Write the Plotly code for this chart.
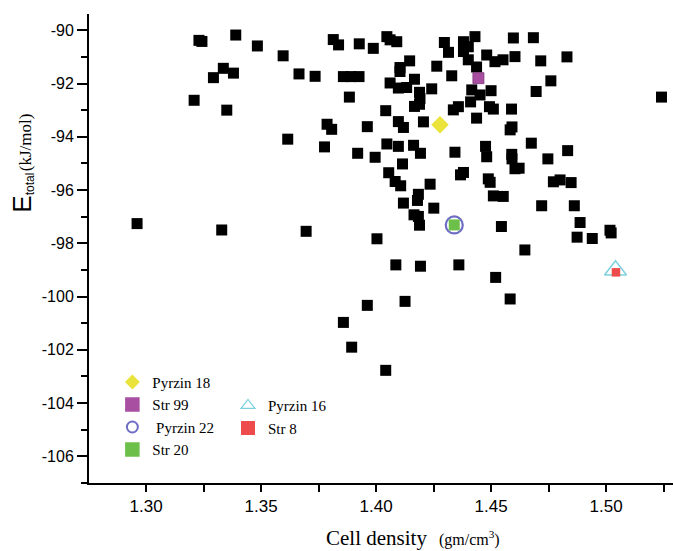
import plotly.graph_objects as go

# Screened structures: crystal cell density (g/cm^3) vs total energy (kJ/mol)
density = [
    1.2961, 1.3209, 1.3230, 1.3243, 1.3293, 1.3336, 1.3380, 1.3351, 1.3329, 1.3390,
    1.3484, 1.3596, 1.3616, 1.3665, 1.3735, 1.3696, 1.3787, 1.3807, 1.3776, 1.3814,
    1.3837, 1.3858, 1.3891, 1.3926, 1.3884, 1.3927, 1.3988, 1.4047, 1.4061, 1.4090,
    1.3962, 1.4042, 1.4061, 1.4097, 1.4133, 1.4104, 1.4104, 1.4146, 1.4167, 1.4189,
    1.4191, 1.4167, 1.4189, 1.4242, 1.4264, 1.4297, 1.4315, 1.4329, 1.4380, 1.4401,
    1.4430, 1.4380, 1.4401, 1.4437, 1.4481, 1.4517, 1.4552, 1.4604, 1.4597, 1.4684,
    1.4716, 1.4830, 1.4760, 1.4696, 1.5241, 1.4416, 1.4452, 1.4500, 1.4411, 1.4493,
    1.4510, 1.4589, 1.4336, 1.4358, 1.4437, 1.4206, 1.4097, 1.4119, 1.4583, 1.4591,
    1.4675, 1.4833, 1.4747, 1.4047, 1.4097, 1.4163, 1.4193, 1.3920, 1.3996, 1.4115,
    1.4343, 1.4476, 1.4481, 1.4590, 1.4591, 1.4604, 1.4622, 1.4055, 1.4083, 1.4107,
    1.4184, 1.4180, 1.4235, 1.4367, 1.4380, 1.4488, 1.4496, 1.4510, 1.4553, 1.4771,
    1.4800, 1.4848, 1.4119, 1.4251, 1.4165, 1.4184, 1.4189, 1.4545, 1.4720, 1.4862,
    1.4887, 1.4874, 1.4940, 1.5017, 1.5022, 1.4004, 1.4647, 1.4086, 1.4193, 1.4360,
    1.4520, 1.3858, 1.3962, 1.4126, 1.3894, 1.4042, 1.4583,
]
energy = [
    -97.26, -92.63, -90.38, -90.42, -91.78, -91.43, -91.61, -93.00, -97.50, -90.18,
    -90.59, -90.96, -94.09, -91.64, -91.73, -97.55, -93.53, -93.72, -94.38, -90.35,
    -90.55, -91.74, -91.74, -91.74, -92.51, -90.51, -90.68, -90.24, -90.36, -90.43,
    -93.62, -93.02, -91.98, -92.17, -92.15, -91.40, -91.55, -91.15, -91.84, -92.33,
    -92.56, -92.86, -92.78, -92.20, -91.35, -90.46, -90.83, -91.71, -90.43, -90.62,
    -90.24, -90.80, -91.11, -91.38, -90.93, -91.18, -91.11, -90.99, -90.29, -90.28,
    -91.15, -91.00, -91.90, -92.30, -92.51, -92.24, -92.43, -92.27, -92.69, -92.87,
    -92.96, -92.96, -92.99, -92.87, -93.30, -93.44, -93.43, -93.65, -93.74, -93.63,
    -94.24, -94.52, -94.83, -94.27, -94.36, -94.32, -94.62, -94.62, -94.77, -95.02,
    -94.58, -94.36, -94.75, -94.66, -94.83, -95.20, -95.18, -95.35, -95.68, -95.84,
    -96.16, -96.39, -95.78, -95.43, -95.34, -95.58, -95.71, -96.22, -96.24, -95.69,
    -95.62, -95.72, -96.49, -96.68, -96.93, -96.99, -97.32, -97.37, -96.59, -96.59,
    -97.22, -97.77, -97.82, -97.51, -97.61, -97.83, -98.25, -98.81, -98.86, -98.81,
    -99.28, -100.97, -100.33, -100.18, -101.90, -102.77, -100.09,
]

# Highlighted structures: name -> (density, energy)
pyrzin18 = (1.4278, -93.55)
str99 = (1.4445, -91.80)
pyrzin22 = (1.4340, -97.31)
str20 = (1.4340, -97.31)
pyrzin16 = (1.5041, -99.01)
str8 = (1.5043, -99.09)

x_ticks = [1.30, 1.35, 1.40, 1.45, 1.50]
x_tick_text = ["1.30", "1.35", "1.40", "1.45", "1.50"]
y_ticks = [-90, -92, -94, -96, -98, -100, -102, -104, -106]
y_tick_text = ["-90", "-92", "-94", "-96", "-98", "-100", "-102", "-104", "-106"]

YELLOW = "#E9E33B"
PURPLE = "#A94FA2"
RING = "#6E6EC4"
GREEN = "#6CC04A"
CYAN = "#7ED2DE"
RED = "#EE4C4C"

SANS = "Liberation Sans, Arial, sans-serif"
SERIF = "Liberation Serif, Times New Roman, serif"

fig = go.Figure()

fig.add_trace(go.Scatter(
    x=density, y=energy, mode="markers", showlegend=False,
    marker=dict(symbol="square", size=11, color="black", line=dict(width=0)),
))

def point(pt, marker):
    fig.add_trace(go.Scatter(x=[pt[0]], y=[pt[1]], mode="markers",
                             showlegend=False, marker=marker))

point(str99, dict(symbol="square", size=11, color=PURPLE, line=dict(width=0.8, color="#7a3576")))
point(pyrzin18, dict(symbol="diamond", size=13.5, color=YELLOW, line=dict(width=0)))
point(pyrzin22, dict(symbol="circle-open", size=17, color=RING, line=dict(width=2.2, color=RING)))
point(str20, dict(symbol="square", size=11, color=GREEN, line=dict(width=0)))
point(pyrzin16, dict(symbol="triangle-up-open", size=19, color=CYAN, line=dict(width=1.5, color=CYAN)))
point(str8, dict(symbol="square", size=8.5, color=RED, line=dict(width=0)))

# Legend entries (legend-only traces)
def key(name, marker, legend):
    fig.add_trace(go.Scatter(x=[None], y=[None], mode="markers", name=name,
                             marker=marker, legend=legend, showlegend=True))

key("Pyrzin 18", dict(symbol="diamond", size=11.5, color=YELLOW), "legend")
key("Str 99", dict(symbol="square", size=14.5, color=PURPLE), "legend")
key("&nbsp;Pyrzin 22", dict(symbol="circle-open", size=11, color=RING, line=dict(width=2, color=RING)), "legend")
key("Str 20", dict(symbol="square", size=14.5, color=GREEN), "legend")
key("Pyrzin 16", dict(symbol="triangle-up-open", size=12, color=CYAN, line=dict(width=1.3, color=CYAN)), "legend2")
key("Str 8", dict(symbol="square", size=14, color=RED), "legend2")

legend_font = dict(family=SERIF, size=15, color="black")

fig.update_layout(
    width=673, height=551,
    margin=dict(l=89, r=0, t=14, b=68),
    paper_bgcolor="white", plot_bgcolor="white",
    font=dict(family=SANS, color="black"),
    legend=dict(x=0.04, y=0.25, xanchor="left", yanchor="top",
                font=legend_font, bgcolor="rgba(0,0,0,0)", tracegroupgap=0),
    legend2=dict(x=0.238, y=0.2, xanchor="left", yanchor="top",
                 font=legend_font, bgcolor="rgba(0,0,0,0)", tracegroupgap=0),
    xaxis=dict(
        range=[1.2752, 1.5291], showgrid=False, zeroline=False,
        showline=True, linecolor="black", linewidth=2,
        tickmode="array", tickvals=x_ticks, ticktext=x_tick_text,
        ticks="outside", ticklen=7, tickwidth=1.5, tickcolor="black",
        tickfont=dict(size=17, family=SANS),
        minor=dict(tickmode="linear", tick0=1.30, dtick=0.025, ticks="outside",
                   ticklen=7, tickwidth=1.5, tickcolor="black", showgrid=False),
    ),
    yaxis=dict(
        range=[-107.0, -89.39], showgrid=False, zeroline=False,
        showline=True, linecolor="black", linewidth=2,
        tickmode="array", tickvals=y_ticks, ticktext=y_tick_text,
        ticks="outside", ticklen=10, tickwidth=1.5, tickcolor="black",
        tickfont=dict(size=16, family=SANS),
        minor=dict(tickmode="linear", tick0=-90, dtick=1, ticks="outside",
                   ticklen=6, tickwidth=1.5, tickcolor="black", showgrid=False),
    ),
)

# Axis titles
fig.add_annotation(
    xref="paper", yref="paper", x=-0.1147, y=0.571,
    xanchor="center", yanchor="bottom", textangle=-90, showarrow=False,
    text=(f'<span style="font-family:{SANS};font-size:26px">E</span>'
          f'<sub><span style="font-family:{SANS};font-size:12px">total</span></sub>'
          f'<span style="font-family:{SERIF};font-size:17px">&#8202;(kJ/mol)</span>'),
)
fig.add_annotation(
    xref="paper", yref="paper", x=0.402, y=-0.088,
    xanchor="left", yanchor="top", showarrow=False,
    text=(f'<span style="font-family:{SERIF};font-size:21px">Cell density</span>'
          f'<span style="font-family:{SERIF};font-size:16px">&nbsp;&nbsp; (gm/cm<sup>3</sup>)</span>'),
)

fig.write_html("out.html")
